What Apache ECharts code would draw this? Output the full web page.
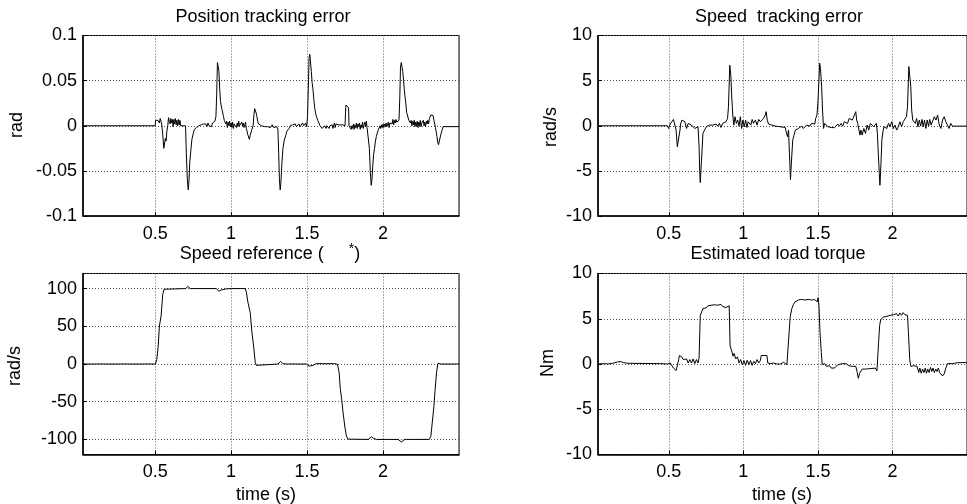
<!DOCTYPE html>
<html><head><meta charset="utf-8">
<script src="https://cdn.jsdelivr.net/npm/echarts@6/dist/echarts.min.js"></script>
<style>html,body{margin:0;padding:0;background:#fff}#c{width:967px;height:504px}</style>
</head><body><div id="c"></div>
<script>
// ---- data: [time (s), value] ----
var posErr = [
[0.025,0],[0.145,0],[0.15,-0.002],[0.155,0],[0.5,0],
[0.503,0.006],[0.508,0.005],[0.513,0.007],[0.518,0.006],[0.523,0.008],[0.528,0.003],[0.533,0.008],[0.538,0.007],[0.543,0.002],
[0.55,-0.01],[0.557,-0.025],[0.562,-0.027],[0.567,-0.014],[0.572,-0.017],[0.577,-0.006],[0.583,0.0],[0.588,0.009],[0.593,0.005],[0.598,0.002],[0.603,0.008],[0.608,0.003],[0.613,0.007],[0.618,-0.001],[0.623,0.007],[0.628,0.002],[0.633,0.008],[0.638,0.001],[0.643,0.006],[0.648,0.0],[0.653,0.007],[0.658,0.001],[0.663,0.006],[0.668,0.0],
[0.7,0.0],[0.705,-0.03],[0.712,-0.06],[0.718,-0.071],[0.723,-0.06],[0.728,-0.04],[0.735,-0.027],[0.742,-0.015],[0.75,-0.009],[0.758,-0.004],[0.765,-0.006],[0.772,-0.002],[0.78,-0.003],[0.788,0.0],[0.795,-0.002],[0.803,0.001],[0.81,-0.001],[0.818,0.002],[0.825,0.0],[0.833,0.002],[0.84,-0.001],[0.848,0.003],[0.855,0.0],[0.863,0.002],[0.87,-0.001],[0.878,0.003],[0.885,0.002],[0.893,0.005],
[0.9,0.01],[0.905,0.035],[0.91,0.07],[0.915,0.071],[0.92,0.06],[0.925,0.04],[0.93,0.027],[0.935,0.022],[0.94,0.018],[0.945,0.016],[0.95,0.01],[0.955,0.006],[0.96,0.008],[0.965,0.002],[0.97,0.005],[0.975,-0.002],[0.98,0.004],[0.985,0.0],[0.99,0.005],[0.995,-0.001],
[1.0,0.003],[1.005,-0.002],[1.01,0.004],[1.015,-0.003],[1.02,0.002],[1.025,0.0],[1.03,0.004],[1.035,-0.002],[1.04,0.003],[1.045,-0.001],[1.05,0.005],[1.055,0.0],[1.06,0.002],[1.065,-0.002],[1.07,0.004],[1.075,0.0],[1.08,0.003],[1.085,-0.002],[1.09,0.001],[1.095,0.004],
[1.1,-0.003],[1.105,-0.006],[1.11,-0.01],[1.115,-0.012],[1.12,-0.015],[1.125,-0.011],[1.13,-0.008],[1.135,-0.005],[1.14,-0.003],[1.145,0.0],[1.15,0.012],[1.155,0.019],[1.16,0.018],[1.165,0.014],[1.17,0.01],[1.175,0.005],[1.18,0.002],[1.19,0.001],
[1.2,0.0],[1.21,0.001],[1.22,-0.001],[1.23,0.001],[1.24,-0.001],[1.25,0.0],[1.26,-0.002],[1.27,0.001],[1.28,-0.002],[1.29,0.0],[1.3,-0.001],[1.308,-0.004],[1.313,-0.03],[1.318,-0.06],[1.323,-0.071],[1.328,-0.062],[1.333,-0.045],[1.341,-0.025],[1.35,-0.016],[1.359,-0.011],[1.367,-0.006],[1.374,-0.004],[1.382,-0.003],[1.39,0.0],[1.398,-0.002],
[1.406,0.001],[1.414,-0.001],[1.422,0.002],[1.43,-0.001],[1.438,0.0],[1.446,0.002],[1.454,-0.001],[1.462,0.001],[1.47,0.003],[1.478,0.0],[1.486,0.002],[1.491,0.003],[1.497,-0.001],
[1.503,0.01],[1.508,0.04],[1.513,0.075],[1.518,0.079],[1.523,0.077],[1.528,0.06],[1.533,0.048],[1.539,0.04],[1.545,0.028],[1.55,0.02],[1.556,0.014],[1.562,0.01],[1.57,0.006],[1.578,0.003],[1.585,0.0],[1.59,-0.002],[1.595,0.001],
[1.6,-0.003],[1.605,-0.001],[1.61,-0.003],[1.615,0.0],[1.62,-0.002],[1.625,-0.003],[1.63,0.0],[1.635,-0.002],[1.64,0.001],[1.645,-0.003],[1.65,0.0],[1.655,-0.002],[1.66,0.002],[1.665,0.001],[1.67,-0.003],[1.675,0.0],[1.68,0.003],[1.685,-0.002],[1.69,0.002],[1.695,0.0],
[1.7,0.002],[1.705,0.001],[1.71,0.0],[1.715,0.003],[1.72,0.001],[1.725,0.0],[1.735,0.001],[1.74,0.0],[1.745,-0.001],[1.75,0.0],[1.753,0.015],[1.756,0.023],[1.762,0.024],[1.768,0.022],[1.773,0.02],[1.776,0.0],[1.78,-0.002],[1.785,0.001],[1.79,-0.004],[1.795,0.0],
[1.8,-0.003],[1.805,0.002],[1.81,-0.004],[1.815,0.001],[1.82,-0.002],[1.825,0.003],[1.83,-0.003],[1.835,0.002],[1.84,-0.001],[1.845,0.003],[1.85,-0.004],[1.855,0.001],[1.86,-0.002],[1.865,0.004],[1.87,-0.003],[1.875,0.001],[1.88,0.004],[1.885,-0.001],[1.89,0.005],[1.895,-0.002],
[1.9,-0.001],[1.905,-0.003],[1.91,-0.025],[1.916,-0.05],[1.922,-0.066],[1.927,-0.06],[1.932,-0.045],[1.938,-0.032],[1.944,-0.025],[1.95,-0.017],[1.956,-0.012],[1.962,-0.008],[1.968,-0.005],[1.975,-0.003],[1.98,0.0],[1.985,-0.003],[1.99,0.001],[1.995,-0.002],
[2.0,0.002],[2.005,-0.002],[2.01,0.002],[2.015,-0.001],[2.02,0.003],[2.025,-0.001],[2.03,0.001],[2.035,0.004],[2.04,-0.002],[2.045,0.003],[2.05,0.001],[2.055,0.005],[2.06,0.002],[2.065,0.007],[2.07,0.001],[2.075,0.006],[2.08,0.003],[2.085,0.007],[2.09,0.004],[2.095,0.006],
[2.1,0.002],[2.105,0.006],[2.11,0.03],[2.115,0.065],[2.12,0.07],[2.125,0.072],[2.13,0.06],[2.135,0.05],[2.14,0.04],[2.145,0.032],[2.15,0.025],[2.155,0.015],[2.16,0.012],[2.165,0.01],[2.17,0.006],[2.175,0.008],[2.18,0.003],[2.185,0.006],[2.19,0.0],[2.195,0.005],
[2.2,0.001],[2.205,0.006],[2.21,-0.001],[2.215,0.004],[2.22,0.0],[2.225,0.005],[2.23,-0.002],[2.235,0.004],[2.24,0.0],[2.245,0.006],[2.25,-0.001],[2.255,0.003],[2.26,0.001],[2.265,0.006],[2.27,0.0],[2.275,0.004],[2.28,-0.001],[2.285,0.005],[2.29,0.002],[2.295,0.006],
[2.3,0.002],[2.305,0.008],[2.31,0.007],[2.315,0.012],[2.32,0.014],[2.325,0.01],[2.33,0.011],[2.335,0.006],[2.34,0.004],[2.345,-0.002],[2.35,-0.007],[2.355,-0.012],[2.36,-0.018],[2.365,-0.021],[2.37,-0.022],[2.375,-0.02],[2.38,-0.01],[2.385,-0.008],[2.39,-0.004],[2.395,-0.001],
[2.4,-0.002],[2.5,-0.001]
];
var speedErr = [
[0.025,0],[0.14,0],[0.146,-0.15],[0.152,0],[0.491,0],
[0.498,-0.3],[0.509,0.19],[0.52,0.44],[0.531,0.7],[0.542,0.63],[0.549,-0.48],[0.557,-2.33],[0.566,-2.15],[0.575,-0.48],[0.579,0.19],[0.588,0.63],[0.597,0.81],
[0.608,0.44],[0.619,-0.3],[0.63,0.26],[0.641,0.44],[0.652,0.07],[0.663,0.26],[0.674,-0.3],[0.685,-0.48],[0.696,-0.11],[0.703,-2.33],[0.707,-4.9],[0.711,-6.3],[0.718,-4.2],[0.729,-0.85],
[0.74,-0.48],[0.751,-0.11],[0.762,-0.3],[0.773,0.07],[0.784,-0.11],[0.795,0.07],[0.806,-0.11],[0.817,0.19],[0.828,-0.04],[0.839,0.26],[0.85,-0.19],[0.861,0.26],[0.872,0.07],[0.883,0.44],[0.894,0.81],
[0.9,2.1],[0.909,6.7],[0.916,5.6],[0.922,3.2],[0.929,1.19],[0.936,0.07],[0.944,1.0],[0.953,0.26],[0.962,0.63],[0.971,-0.04],[0.98,1.0],[0.988,-0.3],[0.997,0.63],
[1.006,-0.11],[1.015,0.63],[1.024,-0.19],[1.032,0.44],[1.041,0.63],[1.05,0.07],[1.059,0.7],[1.068,0.26],[1.081,0.63],[1.092,0.07],[1.103,0.7],[1.114,0.44],[1.125,0.63],[1.136,0.81],[1.147,1.19],[1.153,1.56],[1.16,0.63],[1.169,0.19],[1.191,0.07],
[1.213,-0.04],[1.246,-0.11],[1.248,-0.19],[1.281,-0.19],[1.287,-0.67],[1.296,-1.22],[1.303,-0.48],[1.309,-3.07],[1.316,-5.96],[1.323,-3.8],[1.331,-1.6],[1.34,-1.04],[1.349,-0.48],[1.358,-0.67],[1.369,-0.3],[1.38,-0.11],[1.391,-0.04],
[1.402,-0.3],[1.413,-0.11],[1.424,0.07],[1.435,-0.11],[1.446,-0.04],[1.457,0.26],[1.468,0.44],[1.479,0.19],[1.485,0.81],[1.494,1.19],[1.501,2.85],[1.512,6.93],[1.518,6.19],[1.525,4.33],[1.531,1.74],[1.538,-0.3],[1.545,0.26],[1.556,0.19],[1.567,-0.11],[1.578,-0.04],[1.589,-0.19],
[1.6,-0.04],[1.611,-0.22],[1.622,-0.19],[1.633,0.19],[1.644,-0.04],[1.655,0.26],[1.666,-0.04],[1.677,0.44],[1.688,0.63],[1.699,0.26],[1.709,0.81],[1.72,0.63],[1.731,0.63],[1.742,0.81],[1.754,1.56],[1.76,0.63],[1.767,0.26],[1.775,0.26],[1.782,-1.04],[1.789,-0.48],[1.797,-1.04],
[1.808,-0.3],[1.819,-0.85],[1.83,0.07],[1.841,-0.48],[1.852,0.26],[1.863,0.07],[1.874,-0.11],[1.885,-0.3],[1.892,0.26],[1.899,-0.85],[1.905,-3.07],[1.912,-5.3],[1.916,-6.6],[1.923,-4.19],[1.929,-1.59],[1.936,-0.67],[1.943,-0.11],[1.951,0.07],[1.962,-0.3],[1.973,0.26],[1.984,-0.11],[1.995,0.44],
[2.006,-0.3],[2.017,0.07],[2.028,-0.48],[2.039,-0.11],[2.05,0.44],[2.061,-0.11],[2.072,0.44],[2.083,0.63],[2.094,1.0],[2.101,2.11],[2.11,6.56],[2.116,6.37],[2.123,4.33],[2.129,1.74],[2.136,0.63],[2.145,0.81],[2.154,0.26],[2.162,0.81],[2.171,-0.11],[2.18,0.63],[2.189,-0.04],[2.198,0.7],
[2.206,-0.11],[2.215,0.63],[2.224,-0.3],[2.233,0.63],[2.242,-0.04],[2.25,0.7],[2.259,0.07],[2.27,0.26],[2.281,1.0],[2.292,0.63],[2.303,1.19],[2.314,0.07],[2.325,-0.3],[2.336,0.63],[2.347,1.0],[2.358,0.44],[2.369,0.26],[2.38,-0.3],[2.391,0.26],
[2.402,-0.04],[2.424,-0.04],[2.446,-0.04],[2.5,-0.04]
];
var speedRef = [
[0.025,0],[0.502,0],[0.511,6.2],[0.52,23.9],[0.528,50.4],[0.539,63.7],[0.55,92.5],[0.559,99.1],[0.568,100],[0.7,100],[0.709,101.8],[0.715,102.7],[0.722,101.3],[0.731,100],
[0.902,100],[0.911,98.2],[0.92,96.5],[0.928,97.3],[0.935,98.2],[0.968,99.6],[1.001,100],[1.093,100],[1.1,95.6],[1.111,81.4],[1.126,68.1],[1.137,41.6],[1.148,23.9],[1.159,1.8],[1.166,-1.8],[1.177,0],
[1.308,0],[1.319,1.8],[1.326,3.5],[1.335,2.2],[1.341,0.4],[1.363,0],[1.495,0],[1.504,-1.3],[1.513,-2.7],[1.524,-4.4],[1.533,-2.2],[1.544,-0.9],[1.561,0.4],[1.682,0.4],[1.7,-0.4],
[1.711,-11.5],[1.719,-33.6],[1.728,-46.9],[1.737,-64.6],[1.748,-82.3],[1.759,-95.6],[1.77,-99.6],[1.781,-100],[1.902,-100],[1.913,-97.8],[1.924,-96.5],[1.939,-98.7],[1.957,-100],
[2.099,-100],[2.11,-101.8],[2.121,-103.5],[2.13,-102.7],[2.139,-100.4],[2.154,-100],[2.304,-100],[2.315,-95.6],[2.324,-77.9],[2.335,-55.8],[2.343,-33.6],[2.352,-11.5],[2.361,0.9],[2.37,1.8],[2.379,0],[2.5,0]
];
var loadTorque = [
[0.025,0],[0.069,0.04],[0.08,0.11],[0.091,0],[0.102,0.11],[0.124,0.08],[0.135,0.15],[0.157,0.23],[0.179,0.26],[0.197,0.15],[0.223,0.08],[0.443,0.04],[0.491,0],
[0.509,0.11],[0.531,-0.45],[0.549,-0.71],[0.557,-0.19],[0.566,0.49],[0.571,0.94],[0.586,0.79],[0.597,0.49],[0.608,0.3],[0.619,0.56],[0.63,0.11],[0.641,0.49],[0.652,0.11],[0.663,0.56],[0.674,0.04],[0.685,0.49],[0.696,0.11],[0.703,0.68],
[0.711,5.38],[0.72,5.75],[0.729,6.13],[0.74,6.32],[0.751,6.2],[0.762,6.43],[0.773,6.24],[0.784,6.5],[0.795,6.28],[0.806,6.54],[0.817,6.32],[0.828,6.5],[0.839,6.28],[0.85,6.58],[0.861,6.35],[0.872,6.54],[0.883,6.24],[0.894,6.43],[0.905,6.43],
[0.911,1.99],[0.922,1.43],[0.931,0.86],[0.938,1.17],[0.949,0.56],[0.96,0.79],[0.971,0.11],[0.982,0.49],[0.993,-0.08],[1.004,0.38],[1.015,-0.15],[1.026,0.41],[1.037,-0.08],[1.048,0.38],[1.059,-0.15],[1.07,0.3],[1.081,0.04],[1.092,0.49],[1.103,0.11],[1.114,0.38],
[1.12,0.94],[1.158,0.94],[1.164,0.11],[1.18,0.04],[1.202,0.11],[1.224,0],[1.248,0],[1.27,0.19],[1.292,-0.08],[1.303,0.04],
[1.307,3.5],[1.314,5.19],[1.325,6.13],[1.336,6.58],[1.347,6.88],[1.369,7.07],[1.391,7.14],[1.413,7.07],[1.435,7.14],[1.457,7.07],[1.479,7.11],[1.49,7.26],[1.496,6.88],[1.501,7.33],[1.507,6.5],
[1.514,3.5],[1.523,1.24],[1.529,-0.08],[1.545,0.04],[1.556,-0.26],[1.567,-0.08],[1.578,-0.19],[1.589,-0.45],[1.6,-0.26],[1.611,-0.45],[1.622,-0.26],[1.633,-0.08],[1.644,0.04],[1.666,0.04],[1.688,0.04],[1.699,-0.11],[1.709,-0.19],[1.731,-0.26],[1.742,-0.45],[1.754,-0.26],
[1.764,-0.94],[1.771,-1.58],[1.78,-1.02],[1.789,-0.83],[1.797,-0.56],[1.808,-0.71],[1.819,-0.56],[1.83,-0.75],[1.841,-0.53],[1.852,-0.71],[1.863,-0.49],[1.874,-0.71],[1.885,-0.45],[1.896,-0.75],[1.903,-0.94],
[1.907,2.37],[1.914,4.25],[1.921,4.89],[1.929,5.0],[1.94,5.19],[1.951,5.08],[1.962,5.26],[1.973,5.15],[1.984,5.38],[1.995,5.19],[2.006,5.45],[2.017,5.3],[2.028,5.56],[2.039,5.3],[2.05,5.64],[2.061,5.38],[2.072,5.68],[2.083,5.45],[2.094,5.64],[2.101,5.38],
[2.107,3.5],[2.116,0.49],[2.123,-0.26],[2.132,-0.08],[2.143,-0.19],[2.154,-0.08],[2.165,-0.26],[2.176,-0.94],[2.184,-0.45],[2.193,-1.02],[2.202,-0.56],[2.211,-0.94],[2.22,-0.45],[2.228,-1.02],[2.237,-0.56],[2.246,-0.94],[2.255,-0.38],[2.264,-0.83],[2.272,-0.45],[2.281,-0.94],[2.29,-0.56],[2.299,-0.83],[2.308,-0.45],[2.316,-0.94],
[2.325,-1.09],[2.336,-1.32],[2.347,-1.09],[2.358,-0.45],[2.369,0.04],[2.38,0.11],[2.402,0.04],[2.424,0.11],[2.446,0.15],[2.5,0.15]
];
var titles = ['Position tracking error', 'Speed  tracking error', 'Speed reference (', 'Estimated load torque'];
var yNames = ['rad', 'rad/s', 'rad/s', 'Nm'];
var xName = 'time (s)';
var yRanges = [[-0.1, 0.1], [-10, 10], [-120, 120], [-10, 10]];
var xRange = [0.025, 2.5];

// ---- chart ----
var FONT = '"Liberation Sans", Arial, sans-serif';
var grids = [
  {left: 83, top: 35.5, width: 376, height: 180.5},
  {left: 598, top: 35.5, width: 376, height: 180.5},
  {left: 83, top: 273.5, width: 376, height: 181},
  {left: 598, top: 273.5, width: 376, height: 181}
];
grids.forEach(function (g) { g.show = true; g.borderColor = '#000'; g.borderWidth = 1; g.backgroundColor = '#fff'; g.containLabel = false; });

var splitLine = {show: true, lineStyle: {color: '#555', type: [1, 2], width: 1}};
var xAxes = [], yAxes = [];
for (var i = 0; i < 4; i++) {
  xAxes.push({
    type: 'value', gridIndex: i, min: xRange[0], max: xRange[1], splitNumber: 5,
    axisLine: {show: true, onZero: false, lineStyle: {color: '#000', width: 1.5}},
    axisTick: {show: true, inside: true, length: 4, lineStyle: {color: '#000'}},
    axisLabel: {show: true, color: '#000', fontFamily: FONT, fontSize: 18, margin: 9, showMinLabel: false, showMaxLabel: false},
    splitLine: splitLine
  });
  yAxes.push({
    type: 'value', gridIndex: i, min: yRanges[i][0], max: yRanges[i][1], splitNumber: (i === 2 ? 5 : 4),
    axisLine: {show: true, lineStyle: {color: '#000', width: 1.5}},
    axisTick: {show: true, inside: true, length: 4, lineStyle: {color: '#000'}},
    axisLabel: {show: true, color: '#000', fontFamily: FONT, fontSize: 18, margin: 6, showMinLabel: i !== 2, showMaxLabel: i !== 2},
    splitLine: splitLine
  });
}
var datasets = [posErr, speedErr, speedRef, loadTorque];
var series = datasets.map(function (d, i) {
  return {type: 'line', xAxisIndex: i, yAxisIndex: i, data: d, showSymbol: false, symbol: 'none',
    lineStyle: {color: '#000', width: 1}, animation: false, silent: true};
});

var txt = function (text, x, y, rot, extra) {
  var o = {type: 'text', x: x, y: y, rotation: rot || 0, silent: true,
    style: {text: text, fill: '#000', font: '18px ' + FONT, align: 'center', verticalAlign: 'middle'}};
  if (extra) { for (var k in extra) o.style[k] = extra[k]; }
  return o;
};
var graphic = [
  txt(titles[0], 263, 17),
  txt(titles[1], 779, 17),
  txt(titles[2] + '     {sup|*})', 270, 254, 0, {rich: {sup: {font: '14px ' + FONT, fill: '#000', verticalAlign: 'top', padding: [0, 0, 10, 0]}}}),
  txt(titles[3], 778, 254),
  txt(yNames[0], 17, 125, Math.PI / 2),
  txt(yNames[1], 551, 127, Math.PI / 2),
  txt(yNames[2], 15.5, 366, Math.PI / 2),
  txt(yNames[3], 548, 363, Math.PI / 2),
  txt(xName, 266, 495),
  txt(xName, 782, 495)
];

var chart = echarts.init(document.getElementById('c'), null, {renderer: 'canvas'});
chart.setOption({
  animation: false,
  backgroundColor: '#fff',
  grid: grids, xAxis: xAxes, yAxis: yAxes, series: series, graphic: graphic
});
</script>
</body></html>
